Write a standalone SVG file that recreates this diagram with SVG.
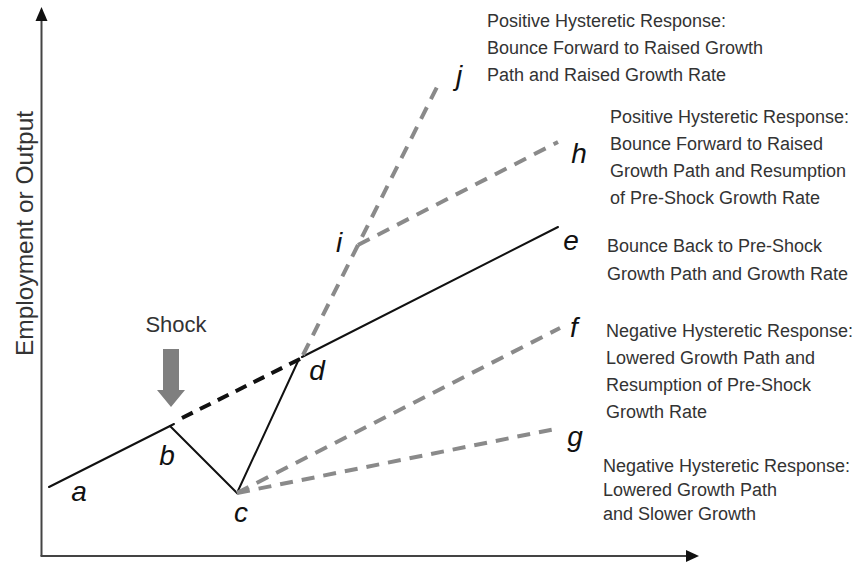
<svg xmlns="http://www.w3.org/2000/svg" width="858" height="564" viewBox="0 0 858 564">
<style>
.ax{stroke:#444;stroke-width:2;fill:none}
.solid{stroke:#111;stroke-width:2;fill:none;stroke-linecap:round}
.bdash{stroke:#111;stroke-width:4;fill:none;stroke-dasharray:12 8}
.gdash{stroke:#8a8a8a;stroke-width:4;fill:none;stroke-dasharray:13 9}
.lbl{font-family:"Liberation Sans",Arial,sans-serif;font-style:italic;font-size:28px;fill:#111;text-anchor:middle}
.txt{font-family:"Liberation Sans",Arial,sans-serif;font-size:18px;fill:#333}
.ylab{font-family:"Liberation Sans",Arial,sans-serif;font-size:24.5px;fill:#333;text-anchor:middle}
</style>
<rect width="858" height="564" fill="#fff"/>
<g id="axes">
<line class="ax" x1="41.5" y1="18" x2="41.5" y2="556"/>
<line class="ax" x1="40.5" y1="556" x2="688" y2="556"/>
<polygon points="41.5,7 35.5,21 47.5,21" fill="#111"/>
<polygon points="699,556 686,550 686,562" fill="#111"/>
<text class="ylab" transform="translate(33,233.5) rotate(-90)">Employment or Output</text>
</g>
<g id="connectors">
<polyline class="solid" points="49,487 170,426 174,424"/>
<line class="bdash" x1="182" y1="418" x2="300" y2="359"/>
<polyline class="solid" points="170,426 237,493 299,359"/>
<line class="solid" x1="302" y1="357" x2="558" y2="227"/>
<line class="gdash" x1="237" y1="493" x2="560" y2="328"/>
<line class="gdash" x1="237" y1="493" x2="560" y2="428"/>
<line class="gdash" x1="303" y1="355" x2="437" y2="87"/>
<line class="gdash" x1="358" y1="245" x2="558" y2="142"/>
</g>
<g id="shock">
<polygon points="163,349 179,349 179,390 185,390 171,407 157,390 163,390" fill="#7f7f7f"/>
<text class="ylab" x="176" y="332" style="font-size:22px">Shock</text>
</g>
<g id="point-labels">
<text class="lbl" x="79" y="501">a</text>
<text class="lbl" x="167" y="465">b</text>
<text class="lbl" x="241" y="522">c</text>
<text class="lbl" x="317" y="380">d</text>
<text class="lbl" x="571" y="250">e</text>
<text class="lbl" x="574" y="337">f</text>
<text class="lbl" x="575" y="446">g</text>
<text class="lbl" x="579" y="163">h</text>
<text class="lbl" x="339" y="252">i</text>
<text class="lbl" x="459" y="85">j</text>
</g>
<g id="note-j">
<text class="txt" x="487" y="27">Positive Hysteretic Response:</text>
<text class="txt" x="487" y="54">Bounce Forward to Raised Growth</text>
<text class="txt" x="487" y="81">Path and Raised Growth Rate</text>
</g>
<g id="note-h">
<text class="txt" x="610" y="123">Positive Hysteretic Response:</text>
<text class="txt" x="610" y="150">Bounce Forward to Raised</text>
<text class="txt" x="610" y="177">Growth Path and Resumption</text>
<text class="txt" x="610" y="204">of Pre-Shock Growth Rate</text>
</g>
<g id="note-e">
<text class="txt" x="607" y="252">Bounce Back to Pre-Shock</text>
<text class="txt" x="607" y="280">Growth Path and Growth Rate</text>
</g>
<g id="note-f">
<text class="txt" x="606" y="337">Negative Hysteretic Response:</text>
<text class="txt" x="606" y="364">Lowered Growth Path and</text>
<text class="txt" x="606" y="391">Resumption of Pre-Shock</text>
<text class="txt" x="606" y="418">Growth Rate</text>
</g>
<g id="note-g">
<text class="txt" x="603" y="472">Negative Hysteretic Response:</text>
<text class="txt" x="603" y="496">Lowered Growth Path</text>
<text class="txt" x="603" y="520">and Slower Growth</text>
</g>
</svg>
